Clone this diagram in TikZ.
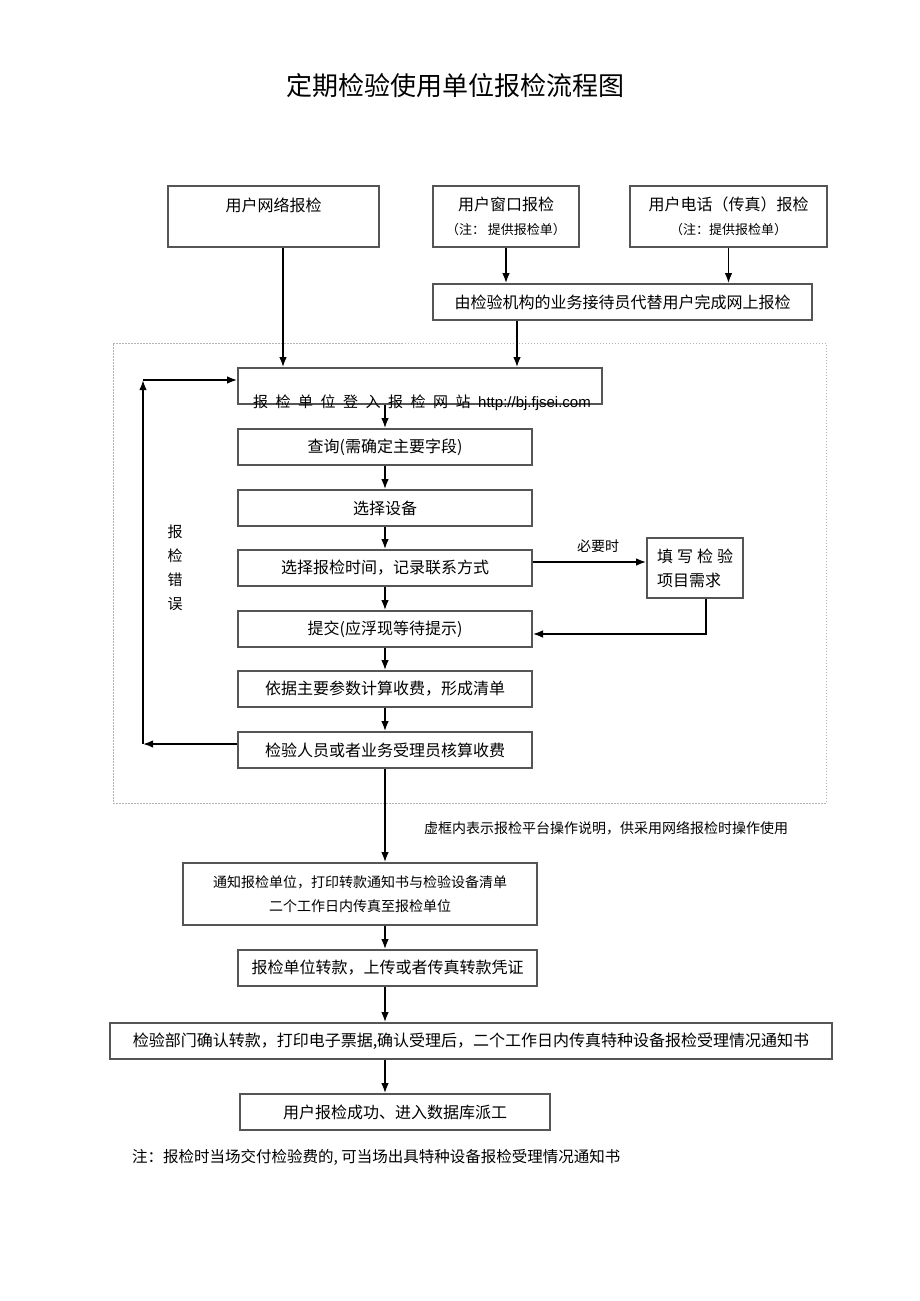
\documentclass[tikz,border=0pt]{standalone}
\usepackage{fontspec}
\setmainfont{Noto Sans CJK SC}
\newfontfamily\urlfont{Liberation Sans}
\usetikzlibrary{positioning,arrows.meta,calc}
\definecolor{boxgray}{RGB}{85,85,85}
\definecolor{dashgray}{RGB}{180,180,180}
\newcommand{\wsp}{\hspace{7.5pt}}
\tikzset{
    box/.style={
        rectangle,
        draw=boxgray,
        fill=white,
        line width=1.6pt,
        minimum width=294pt,
        minimum height=36pt,
        inner sep=0pt,
        align=center,
        font=\fontsize{16}{24}\selectfont
    },
    topbox/.style={
        box,
        minimum height=61pt
    },
    dashbox/.style={
        rectangle,
        draw=dashgray,
        line width=1pt,
        dash pattern=on 1.5pt off 1.5pt
    },
    lbl/.style={
        inner sep=0pt,
        font=\fontsize{14}{24}\selectfont
    },
    arr/.style={->,line width=1.6pt,black,>=Latex}
}

\begin{document}
\begin{tikzpicture}[x=1pt,y=-1pt]
\fill[white] (0,0) rectangle (920,1301);
\useasboundingbox (0,0) rectangle (920,1301);

% Title
\node[inner sep=0pt,font=\fontsize{26}{30}\selectfont] (title) at (455,86) {定期检验使用单位报检流程图};

% Three ways to apply
\node[topbox,minimum width=211pt] (net) at (273.5,216.5) {用户网络报检\\\mbox{}};
\node[topbox,minimum width=146pt] (win) at (506,216.5) {用户窗口报检\\{\fontsize{13}{24}\selectfont （注：\ 提供报检单）}};
\node[topbox,minimum width=197pt] (tel) at (728.5,216.5) {用户电话（传真）报检\\{\fontsize{13}{24}\selectfont （注：提供报检单）}};
\node[box,minimum width=379pt] (agent) at (622.5,302) {由检验机构的业务接待员代替用户完成网上报检};

\draw[arr] (win) -- (win |- agent.north);
\draw[arr] (tel) -- (tel |- agent.north);

% Platform (dashed frame)
\node[dashbox,minimum width=713pt,minimum height=460pt] (frame) at (469.5,573) {};

\node[box,minimum width=364pt] (login) at (420,386) {};
\node[box] (query)  at (385,447) {查询(需确定主要字段)};
\node[box] (device) at (385,508) {选择设备};
\node[box] (choose) at (385,568) {选择报检时间，记录联系方式};
\node[box] (submit) at (385,629) {提交(应浮现等待提示)};
\node[box] (calc)   at (385,689) {依据主要参数计算收费，形成清单};
\node[box] (check)  at (385,750) {检验人员或者业务受理员核算收费};

\node[box,minimum width=96pt,minimum height=60pt,align=left] (fill) at (695,568)
    {填\hspace{4pt}写\hspace{4pt}检\hspace{4pt}验\\项目需求};
\node[lbl] (need) at (598,546) {必要时};
\node[lbl,font=\fontsize{15}{24}\selectfont,align=center] (err) at (175,568) {报\\检\\错\\误};

\draw[arr] ([xshift=9.5]net.south) -- ([xshift=9.5]net.south |- login.north);
\draw[arr] ([xshift=-105.5]agent.south) -- ([xshift=-105.5]agent.south |- login.north);
\draw[arr] (login.south -| query) -- (query);
\draw[arr] (query) -- (device);
\draw[arr] (device) -- (choose);
\draw[arr] (choose) -- (submit);
\draw[arr] (submit) -- (calc);
\draw[arr] (calc) -- (check);
\draw[arr] ([yshift=6]choose.east) -- ([yshift=6]choose.east -| fill.west);
\draw[arr] ([xshift=11]fill.south) |- ([yshift=-5]submit.east);

\node[inner sep=0pt,font=\fontsize{15}{24}\selectfont] (logintxt) at (422,403)
    {报\wsp 检\wsp 单\wsp 位\wsp 登\wsp 入\wsp 报\wsp 检\wsp 网\wsp 站\wsp{\urlfont\fontsize{15}{24}\selectfont http://bj.fjsei.com}};

% Error loop
\coordinate (fbb) at (143,744);
\coordinate (fbt) at (143,380);
\draw[arr] (check.west |- fbb) -- (fbb);
\draw[arr] (fbb) -- (fbt);
\draw[arr] (fbt) -- (login.west |- fbt);

\node[lbl,anchor=west] (vnote) at (424,828) {虚框内表示报检平台操作说明，供采用网络报检时操作使用};

% After the platform
\node[box,minimum width=354pt,minimum height=62pt,font=\fontsize{14}{24}\selectfont] (notify) at (360,894)
    {通知报检单位，打印转款通知书与检验设备清单\\二个工作日内传真至报检单位};
\node[box,minimum width=299pt] (pay) at (387.5,968) {报检单位转款，上传或者传真转款凭证};
\node[box,minimum width=722pt] (confirm) at (471,1041) {检验部门确认转款，打印电子票据,确认受理后，二个工作日内传真特种设备报检受理情况通知书};
\node[box,minimum width=310pt] (done) at (395,1112) {用户报检成功、进入数据库派工};

\draw[arr] (check) -- (check |- notify.north);
\draw[arr] (check |- notify.south) -- (check |- pay.north);
\draw[arr] (check |- pay.south) -- (check |- confirm.north);
\draw[arr] (check |- confirm.south) -- (check |- done.north);

\node[lbl,anchor=west,font=\fontsize{15.5}{24}\selectfont] (note) at (132,1157) {注：报检时当场交付检验费的, 可当场出具特种设备报检受理情况通知书};

\end{tikzpicture}
\end{document}
